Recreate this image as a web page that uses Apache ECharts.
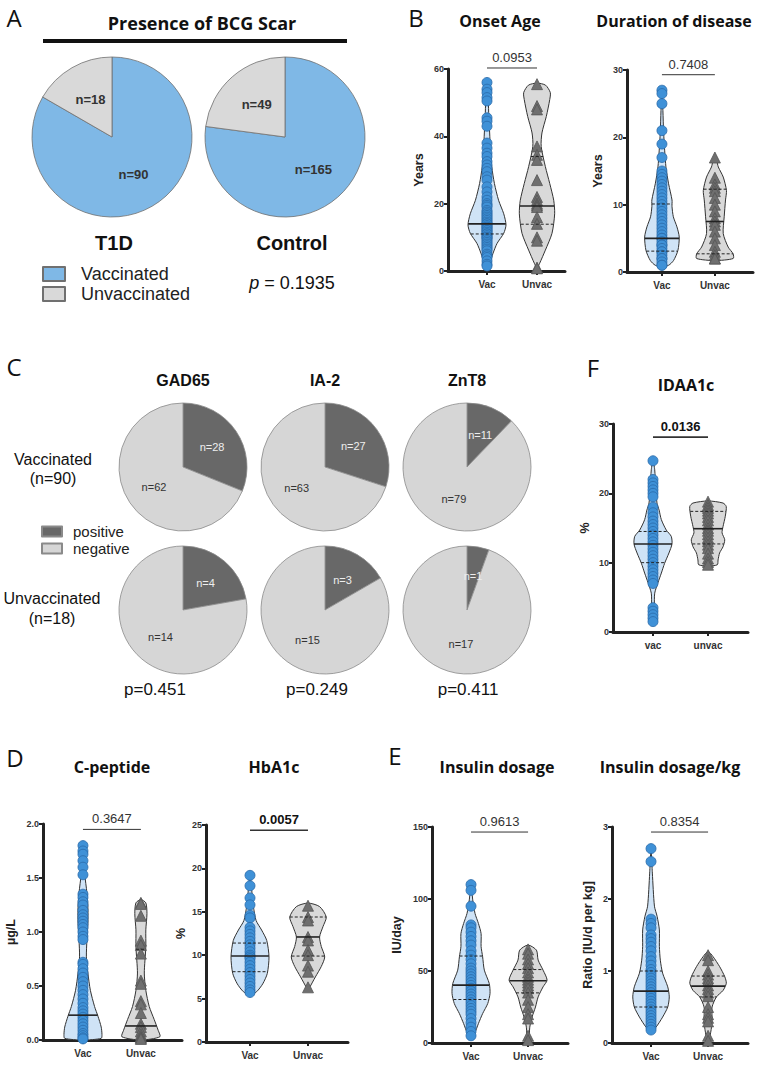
<!DOCTYPE html>
<html>
<head>
<meta charset="utf-8">
<script src="https://cdn.jsdelivr.net/npm/echarts@6/dist/echarts.min.js"></script>
<style>
html, body { margin: 0; background: #fff; }
#main { width: 762px; height: 1069px; }
</style>
</head>
<body>
<div id="main"></div>
<script>
// ---- A: BCG scar ----
const scarNames = ['Vaccinated', 'Unvaccinated'];
const t1dScar = [90, 18];
const controlScar = [165, 49];

// ---- C: autoantibodies (positive, negative) ----
const antibodyNames = ['positive', 'negative'];
const gadVac = [28, 62];
const ia2Vac = [27, 63];
const znt8Vac = [11, 79];
const gadUnvac = [4, 14];
const ia2Unvac = [3, 15];
const znt8Unvac = [1, 17];

// ---- violin data: points, outline [value, relative width], median, quartiles ----
const onsetVac = [56, 54, 53, 51.5, 50.5, 45.5, 44.5, 43, 38, 36.5, 35, 34, 32.5, 31.5, 30.5, 29.5, 28, 27, 25, 23.5, 22, 21, 20, 19.5, 19, 18, 17.5, 17, 16.5, 16, 15.5, 15, 14.5, 14, 14, 13.5, 13, 13, 12.5, 12, 12, 11.5, 11, 11, 10.5, 10, 10, 9.5, 9, 8.5, 8, 7.5, 7, 6.5, 6, 5, 4.5, 4, 3, 2, 1.5];
const onsetUnvac = [55.5, 49, 48, 37, 34.5, 33, 27, 22, 21, 20, 19.5, 19, 16, 14, 10, 9, 1, 0.8];
const onsetVacShape = [[56.3, 0], [54, 0.05], [45, 0.1], [41, 0.14], [36, 0.18], [31, 0.25], [26, 0.39], [21, 0.61], [17, 0.88], [13.7, 1], [11.2, 0.88], [8.2, 0.53], [5.3, 0.32], [2.3, 0.14], [1.3, 0]];
const onsetUnvacShape = [[55.8, 0], [55.2, 0.45], [53, 0.7], [50.9, 0.67], [45.9, 0.49], [41, 0.26], [37, 0.22], [31, 0.44], [26, 0.67], [21, 0.88], [17, 0.93], [11.2, 0.79], [6.2, 0.44], [2.3, 0.14], [0.8, 0]];
const onsetMedian = [14, 19.3];
const onsetQuartiles = [[11], [13.9, 34]];

const durVac = [27, 26.5, 25, 21, 19, 17, 15, 14.5, 14, 13.5, 13, 12.5, 12, 11.5, 11, 10.5, 10, 9.5, 9, 8.5, 8, 7.5, 7, 6.5, 6, 5.5, 5, 5, 4.5, 4, 4, 3.5, 3, 3, 2.5, 2, 2, 1.5, 1, 1];
const durUnvac = [17, 14, 13, 12.5, 12, 11, 10, 9, 8, 7.5, 7, 6, 5, 4, 3, 2.5, 2, 2];
const durVacShape = [[27, 0], [24, 0.05], [20.6, 0.09], [15.6, 0.21], [13.1, 0.35], [10.7, 0.53], [9.7, 0.53], [8.2, 0.6], [6.7, 0.79], [5.2, 0.91], [3.2, 0.84], [1.7, 0.61], [1.0, 0.35], [0.8, 0]];
const durUnvacShape = [[17.1, 0], [16.5, 0.1], [15.6, 0.18], [14.1, 0.44], [12.1, 0.61], [10.7, 0.56], [8.2, 0.49], [5.7, 0.44], [3.7, 0.7], [2.7, 0.96], [2, 0.96], [1.7, 0]];
const durMedian = [5.0, 7.5];
const durQuartiles = [[3.1, 10.1], [2.7, 12.3]];

const idaaVac = [24.7, 22, 21.5, 21, 20.5, 20, 19.5, 18, 17.2, 16.6, 16, 15.5, 15, 14.5, 14, 13.5, 13, 12.5, 12, 11.5, 11, 10.5, 10, 9.5, 9, 8.5, 8, 7.5, 7, 3.5, 3, 2.5, 2, 1.5];
const idaaUnvac = [18.8, 18.3, 17.9, 17.5, 17.1, 16.6, 16.1, 15.5, 15, 14.6, 14.1, 13.6, 13.1, 12.6, 12.1, 11.3, 10.6, 10.1, 9.7];
const idaaVacShape = [[24.7, 0], [23.4, 0.09], [21, 0.14], [18.6, 0.21], [17.6, 0.32], [16.2, 0.44], [14.7, 0.7], [13.8, 0.96], [12.7, 1], [11.4, 0.84], [9.9, 0.61], [8.5, 0.44], [7.1, 0.26], [5.6, 0.09], [3.7, 0.07], [1.8, 0.05], [1.2, 0]];
const idaaUnvacShape = [[18.9, 0], [18.6, 0.79], [18.1, 0.96], [16.7, 0.91], [15.2, 0.79], [14.3, 0.74], [13.3, 0.88], [12.3, 0.79], [11.4, 0.61], [10.4, 0.53], [9.7, 0.49], [9.5, 0]];
const idaaMedian = [12.7, 14.9];
const idaaQuartiles = [[10.0, 14.5], [12.7, 17.4]];

const cpepVac = [1.8, 1.75, 1.72, 1.66, 1.6, 1.53, 1.35, 1.32, 1.28, 1.25, 1.2, 1.16, 1.13, 1.1, 1.07, 1.04, 1.0, 0.96, 0.93, 0.72, 0.7, 0.66, 0.62, 0.58, 0.54, 0.5, 0.46, 0.42, 0.38, 0.34, 0.3, 0.27, 0.24, 0.21, 0.18, 0.15, 0.12, 0.09, 0.06, 0.04, 0.02, 0.01];
const cpepUnvac = [1.27, 1.26, 1.15, 0.92, 0.88, 0.8, 0.55, 0.52, 0.36, 0.33, 0.25, 0.15, 0.12, 0.08, 0.05, 0.03, 0.02, 0.01];
const cpepVacShape = [[1.81, 0], [1.54, 0.09], [1.36, 0.21], [1.23, 0.26], [1.08, 0.26], [0.93, 0.21], [0.77, 0.18], [0.62, 0.26], [0.46, 0.39], [0.31, 0.61], [0.22, 0.79], [0.12, 0.96], [0.05, 1], [0.015, 0.96], [0, 0]];
const cpepUnvacShape = [[1.30, 0], [1.27, 0.26], [1.17, 0.32], [1.02, 0.26], [0.86, 0.26], [0.62, 0.18], [0.46, 0.26], [0.31, 0.44], [0.19, 0.7], [0.09, 0.91], [0.03, 1], [0, 0]];
const cpepMedian = [0.23, 0.13];
const cpepQuartiles = [[], [0.84]];

const hbVac = [19.2, 18, 16.6, 15.8, 14.6, 14.3, 13.2, 12.8, 12.4, 12, 11.6, 11.2, 10.8, 10.4, 10, 9.8, 9.6, 9.2, 8.8, 8.4, 8, 7.6, 7.2, 6.8, 6.4, 6, 5.7];
const hbUnvac = [15.7, 14.4, 14, 12.1, 11.7, 10.6, 10, 8.8, 8.1, 6.3];
const hbVacShape = [[19.2, 0], [17.5, 0.09], [15.6, 0.18], [14, 0.32], [12.9, 0.61], [11.7, 0.88], [9.8, 1], [7.9, 0.91], [6.7, 0.67], [5.8, 0.35], [5.4, 0]];
const hbUnvacShape = [[16, 0], [15.6, 0.61], [14.4, 0.96], [13.3, 0.79], [12.1, 0.61], [11, 0.7], [9.8, 0.88], [8.7, 0.7], [7.5, 0.39], [6.3, 0.09], [6, 0]];
const hbMedian = [9.9, 12.1];
const hbQuartiles = [[8.1, 11.4], [9.9, 14.4]];

const insVac = [110, 106, 95, 82, 80, 77, 74, 71, 68, 64, 61, 58, 55, 52, 50, 48, 46, 44, 42, 40, 38, 36, 34, 32, 30, 28, 26, 24, 22, 20, 17, 14, 11, 8, 5];
const insUnvac = [65, 62, 58, 55, 52, 49, 46, 44, 42, 40, 38, 35, 30, 25, 20, 17, 5, 2];
const insVacShape = [[110.5, 0], [99.4, 0.09], [90, 0.21], [83, 0.39], [76, 0.53], [67, 0.53], [60, 0.61], [50.6, 0.7], [41.3, 0.96], [34.4, 1], [27.4, 0.88], [20.4, 0.61], [13.5, 0.39], [6.5, 0.18], [4.2, 0]];
const insUnvacShape = [[68, 0], [64.5, 0.44], [57.6, 0.53], [50.6, 0.79], [43.7, 1.0], [39, 0.79], [32, 0.53], [25, 0.39], [18, 0.21], [11, 0.09], [1.9, 0.05], [0, 0]];
const insMedian = [40.2, 43.2];
const insQuartiles = [[30.2, 60.4], [34.8, 51]];

const kgVac = [2.7, 2.52, 1.72, 1.66, 1.6, 1.5, 1.45, 1.4, 1.34, 1.28, 1.2, 1.14, 1.08, 1.02, 0.98, 0.94, 0.9, 0.86, 0.82, 0.78, 0.74, 0.7, 0.66, 0.62, 0.58, 0.54, 0.5, 0.46, 0.42, 0.38, 0.34, 0.3, 0.26, 0.22, 0.18];
const kgUnvac = [1.22, 1.15, 1.0, 0.95, 0.9, 0.86, 0.8, 0.75, 0.7, 0.65, 0.5, 0.4, 0.35, 0.3, 0.1, 0.03];
const kgVacShape = [[2.71, 0], [2.36, 0.07], [1.9, 0.18], [1.76, 0.32], [1.57, 0.44], [1.34, 0.44], [1.15, 0.49], [0.97, 0.61], [0.78, 0.88], [0.64, 0.96], [0.5, 0.88], [0.36, 0.61], [0.22, 0.26], [0.17, 0]];
const kgUnvacShape = [[1.27, 0], [1.2, 0.26], [1.06, 0.61], [0.92, 0.88], [0.83, 0.96], [0.73, 0.79], [0.64, 0.44], [0.5, 0.21], [0.36, 0.21], [0.22, 0.18], [0.08, 0.09], [0, 0]];
const kgMedian = [0.72, 0.79];
const kgQuartiles = [[0.5, 1.0], [0.64, 0.93]];

const groupLabels = ['Vac', 'Unvac'];
const groupLabelsLower = ['vac', 'unvac'];

// ---- styles ----
const ARIAL = "'Liberation Sans', Arial, sans-serif";
const OPEN = "'Open Sans', sans-serif";
const HALF = 19; // px half-width of a violin at relative width 1
const VAC_FILL = '#cfe3f6';
const UNVAC_FILL = '#d9d9d9';

const panels = [
  { grid: { left: 448, top: 69, width: 117, height: 202 }, xMin: 0.22, xMax: 2.56, yMax: 60, step: 20, name: 'Years', gap: 23, labels: groupLabels, bar: 60.3, p: '0.0953', bold: false,
    groups: [[onsetVac, onsetVacShape], [onsetUnvac, onsetUnvacShape]], median: onsetMedian, quart: onsetQuartiles },
  { grid: { left: 627, top: 70, width: 126, height: 202 }, xMin: 0.34, xMax: 2.72, yMax: 30, step: 10, name: 'Years', gap: 23, labels: groupLabels, bar: 29.3, p: '0.7408', bold: false,
    groups: [[durVac, durVacShape], [durUnvac, durUnvacShape]], median: durMedian, quart: durQuartiles },
  { grid: { left: 613, top: 424, width: 135, height: 208 }, xMin: 0.273, xMax: 2.727, yMax: 30, step: 10, name: '%', gap: 22, labels: groupLabelsLower, bar: 28.1, p: '0.0136', bold: true,
    groups: [[idaaVac, idaaVacShape], [idaaUnvac, idaaUnvacShape]], median: idaaMedian, quart: idaaQuartiles },
  { grid: { left: 43, top: 824, width: 139, height: 216 }, xMin: 0.31, xMax: 2.71, yMax: 2, step: 0.5, dec: 1, name: 'µg/L', gap: 26, labels: groupLabels, bar: 1.95, p: '0.3647', bold: false,
    groups: [[cpepVac, cpepVacShape], [cpepUnvac, cpepUnvacShape]], median: cpepMedian, quart: cpepQuartiles },
  { grid: { left: 206, top: 825, width: 142, height: 217 }, xMin: 0.241, xMax: 2.69, yMax: 25, step: 5, name: '%', gap: 19, labels: groupLabels, bar: 24.4, p: '0.0057', bold: true,
    groups: [[hbVac, hbVacShape], [hbUnvac, hbUnvacShape]], median: hbMedian, quart: hbQuartiles },
  { grid: { left: 432, top: 827, width: 136, height: 216 }, xMin: 0.316, xMax: 2.70, yMax: 150, step: 50, name: 'IU/day', gap: 29, labels: groupLabels, bar: 146.5, p: '0.9613', bold: false,
    groups: [[insVac, insVacShape], [insUnvac, insUnvacShape]], median: insMedian, quart: insQuartiles },
  { grid: { left: 612, top: 827, width: 136, height: 216 }, xMin: 0.316, xMax: 2.70, yMax: 3, step: 1, name: 'Ratio [IU/d per kg]', gap: 18, labels: groupLabels, bar: 2.93, p: '0.8354', bold: false,
    groups: [[kgVac, kgVacShape], [kgUnvac, kgUnvacShape]], median: kgMedian, quart: kgQuartiles }
];

// width of a violin outline at value v (outline is ordered top -> bottom)
function widthAt(shape, v) {
  for (let i = 0; i < shape.length - 1; i++) {
    const a = shape[i], b = shape[i + 1];
    if (v <= a[0] && v >= b[0]) {
      const t = (a[0] - v) / ((a[0] - b[0]) || 1);
      return a[1] + (b[1] - a[1]) * t;
    }
  }
  return 0;
}

function violinRender(shape, fill) {
  return function (params, api) {
    const x = api.value(0);
    const right = [], left = [];
    shape.forEach(function (p) {
      const c = api.coord([x, p[0]]);
      right.push([c[0] + p[1] * HALF, c[1]]);
      if (p[1] > 0) left.unshift([c[0] - p[1] * HALF, c[1]]);
    });
    return {
      type: 'polygon',
      shape: { points: right.concat(left), smooth: 0.25 },
      style: { fill: fill, stroke: '#333', lineWidth: 1 }
    };
  };
}

function statRender(shape) {
  return function (params, api) {
    const x = api.value(0), v = api.value(1), isMedian = api.value(2) === 1;
    const c = api.coord([x, v]);
    const w = widthAt(shape, v) * HALF;
    return {
      type: 'line',
      shape: { x1: c[0] - w, y1: c[1], x2: c[0] + w, y2: c[1] },
      style: { stroke: '#222', lineWidth: isMedian ? 1.6 : 1, lineDash: isMedian ? null : [3, 2] }
    };
  };
}

function barRender(text, bold) {
  return function (params, api) {
    const a = api.coord([api.value(0), api.value(2)]);
    const b = api.coord([api.value(1), api.value(2)]);
    return {
      type: 'group',
      children: [
        { type: 'line', shape: { x1: a[0], y1: a[1], x2: b[0], y2: b[1] },
          style: { stroke: '#333', lineWidth: bold ? 1.6 : 1 } },
        { type: 'text', x: (a[0] + b[0]) / 2, y: a[1] - 4,
          style: { text: text, fill: bold ? '#111' : '#333', align: 'center', verticalAlign: 'bottom',
                   font: (bold ? 'bold ' : '') + '13px ' + ARIAL } }
      ]
    };
  };
}

const grids = [], xAxes = [], yAxes = [], series = [];

panels.forEach(function (pn, i) {
  grids.push(Object.assign({ outerBoundsMode: 'none', containLabel: false }, pn.grid));
  xAxes.push({
    type: 'value', gridIndex: i, min: pn.xMin, max: pn.xMax,
    axisLine: { show: true, onZero: true, lineStyle: { color: '#222', width: 3 } },
    axisTick: { show: true, customValues: [1, 2], length: 4, lineStyle: { color: '#222', width: 2 } },
    axisLabel: { customValues: [1, 2], margin: 8, color: '#333', fontFamily: ARIAL, fontWeight: 'bold', fontSize: 10,
                 formatter: function (v) { return pn.labels[Math.round(v) - 1] || ''; } },
    splitLine: { show: false }
  });
  yAxes.push({
    type: 'value', gridIndex: i, min: 0, max: pn.yMax, interval: pn.step,
    name: pn.name, nameLocation: 'middle', nameGap: pn.gap,
    nameTextStyle: { fontFamily: ARIAL, fontWeight: 'bold', fontSize: 12.5, color: '#222' },
    axisLine: { show: true, lineStyle: { color: '#222', width: 3 } },
    axisTick: { show: true, length: 4, lineStyle: { color: '#222', width: 2 } },
    axisLabel: { margin: 4, color: '#333', fontFamily: ARIAL, fontWeight: 'bold', fontSize: 9,
                 formatter: function (v) { return pn.dec ? v.toFixed(pn.dec) : String(v); } },
    splitLine: { show: false }
  });

  pn.groups.forEach(function (g, k) {
    const x = k + 1;
    const isVac = k === 0;
    series.push({
      type: 'custom', xAxisIndex: i, yAxisIndex: i, data: [[x, 0]], z: 2,
      renderItem: violinRender(g[1], isVac ? VAC_FILL : UNVAC_FILL), silent: true
    });
    series.push({
      type: 'scatter', xAxisIndex: i, yAxisIndex: i, z: 3, silent: true,
      data: g[0].map(function (v) { return [x, v]; }),
      symbol: isVac ? 'circle' : 'triangle',
      symbolSize: isVac ? 10 : 11,
      itemStyle: isVac
        ? { color: '#3f91d7', borderColor: '#2a6aa8', borderWidth: 0.8, opacity: 1 }
        : { color: '#6f6f6f', borderColor: '#555', borderWidth: 0.8, opacity: 1 }
    });
    const statData = [[x, pn.median[k], 1]].concat(pn.quart[k].map(function (q) { return [x, q, 0]; }));
    series.push({
      type: 'custom', xAxisIndex: i, yAxisIndex: i, data: statData, z: 4, silent: true,
      renderItem: statRender(g[1])
    });
  });

  series.push({
    type: 'custom', xAxisIndex: i, yAxisIndex: i, data: [[1, 2, pn.bar]], z: 4, silent: true, clip: false,
    renderItem: barRender(pn.p, pn.bold)
  });
});

// ---- pies ----
function pieSeries(center, radius, values, names, colors, labelStyles, border) {
  return {
    type: 'pie', center: center, radius: radius, startAngle: 90, clockwise: true,
    silent: true, emphasis: { disabled: true }, labelLine: { show: false },
    data: values.map(function (v, j) {
      return {
        name: names[j], value: v,
        itemStyle: { color: colors[j], borderColor: border, borderWidth: 0.8 },
        label: Object.assign({ show: true, position: 'inside', formatter: 'n={c}' }, labelStyles[j])
      };
    })
  };
}

const scarColors = ['#7fb8e6', '#d9d9d9'];
const scarLabel = { fontFamily: ARIAL, fontWeight: 'bold', fontSize: 13, color: '#333' };
series.push(pieSeries([112, 137], 80, t1dScar, scarNames, scarColors, [scarLabel, scarLabel], '#707070'));
series.push(pieSeries([285, 137], 80, controlScar, scarNames, scarColors, [scarLabel, scarLabel], '#707070'));

const abColors = ['#686868', '#d6d6d6'];
const abLabels = [
  { fontFamily: ARIAL, fontSize: 11, color: '#eeeeee' },
  { fontFamily: ARIAL, fontSize: 11, color: '#333' }
];
const abRows = [[gadVac, ia2Vac, znt8Vac], [gadUnvac, ia2Unvac, znt8Unvac]];
const abCx = [183, 325, 467];
const abCy = [467, 610];
abRows.forEach(function (row, r) {
  row.forEach(function (vals, c) {
    series.push(pieSeries([abCx[c], abCy[r]], 64, vals, antibodyNames, abColors, abLabels, '#8a8a8a'));
  });
});

// ---- free text ----
function txt(x, y, text, font) {
  return { type: 'text', x: x, y: y, silent: true,
    style: { text: text, font: font, fill: '#111', align: 'center', verticalAlign: 'middle' } };
}

const graphics = [
  txt(14, 17, 'A', '24px ' + OPEN),
  txt(416, 17, 'B', '24px ' + OPEN),
  txt(14, 366, 'C', '24px ' + OPEN),
  txt(593, 367, 'F', '24px ' + OPEN),
  txt(15, 757, 'D', '24px ' + OPEN),
  txt(395, 755, 'E', '24px ' + OPEN),
  txt(202, 23, 'Presence of BCG Scar', 'bold 18px ' + OPEN),
  { type: 'line', silent: true, shape: { x1: 43, y1: 41, x2: 347, y2: 41 }, style: { stroke: '#111', lineWidth: 4 } },
  txt(114, 243, 'T1D', 'bold 20px ' + ARIAL),
  txt(292, 243, 'Control', 'bold 20px ' + ARIAL),
  { type: 'text', x: 292, y: 283, silent: true,
    style: { text: '{i|p} = 0.1935', font: '18px ' + ARIAL, fill: '#111', align: 'center', verticalAlign: 'middle',
             rich: { i: { fontStyle: 'italic', fontSize: 18, fontFamily: ARIAL } } } },
  txt(500, 21, 'Onset Age', 'bold 16px ' + OPEN),
  txt(674, 21, 'Duration of disease', 'bold 16px ' + OPEN),
  txt(183, 380, 'GAD65', 'bold 16px ' + ARIAL),
  txt(325, 380, 'IA-2', 'bold 16px ' + ARIAL),
  txt(467, 380, 'ZnT8', 'bold 16px ' + ARIAL),
  txt(53, 459, 'Vaccinated', '16px ' + ARIAL),
  txt(53, 478, '(n=90)', '16px ' + ARIAL),
  txt(52, 598, 'Unvaccinated', '16px ' + ARIAL),
  txt(52, 618, '(n=18)', '16px ' + ARIAL),
  txt(155, 689, 'p=0.451', '17px ' + ARIAL),
  txt(317, 689, 'p=0.249', '17px ' + ARIAL),
  txt(468, 689, 'p=0.411', '17px ' + ARIAL),
  txt(686, 385, 'IDAA1c', 'bold 16px ' + OPEN),
  txt(112, 767, 'C-peptide', 'bold 16px ' + OPEN),
  txt(274, 767, 'HbA1c', 'bold 16px ' + OPEN),
  txt(497, 767, 'Insulin dosage', 'bold 16px ' + OPEN),
  txt(670, 767, 'Insulin dosage/kg', 'bold 16px ' + OPEN)
];

const chart = echarts.init(document.getElementById('main'), null, { renderer: 'svg' });
chart.setOption({
  backgroundColor: '#ffffff',
  animation: false,
  grid: grids,
  xAxis: xAxes,
  yAxis: yAxes,
  legend: [
    { data: scarNames, orient: 'vertical', left: 42, top: 265, padding: 0, itemWidth: 22, itemHeight: 14, itemGap: 2,
      icon: 'rect', selectedMode: false,
      textStyle: { fontFamily: ARIAL, fontSize: 18, color: '#222', padding: [0, 0, 0, 11] } },
    { data: antibodyNames, orient: 'vertical', left: 41, top: 524, padding: 0, itemWidth: 20, itemHeight: 10, itemGap: 2,
      icon: 'rect', selectedMode: false,
      textStyle: { fontFamily: ARIAL, fontSize: 15, color: '#222', padding: [0, 0, 0, 6] } }
  ],
  graphic: graphics,
  series: series
});
</script>
</body>
</html>
